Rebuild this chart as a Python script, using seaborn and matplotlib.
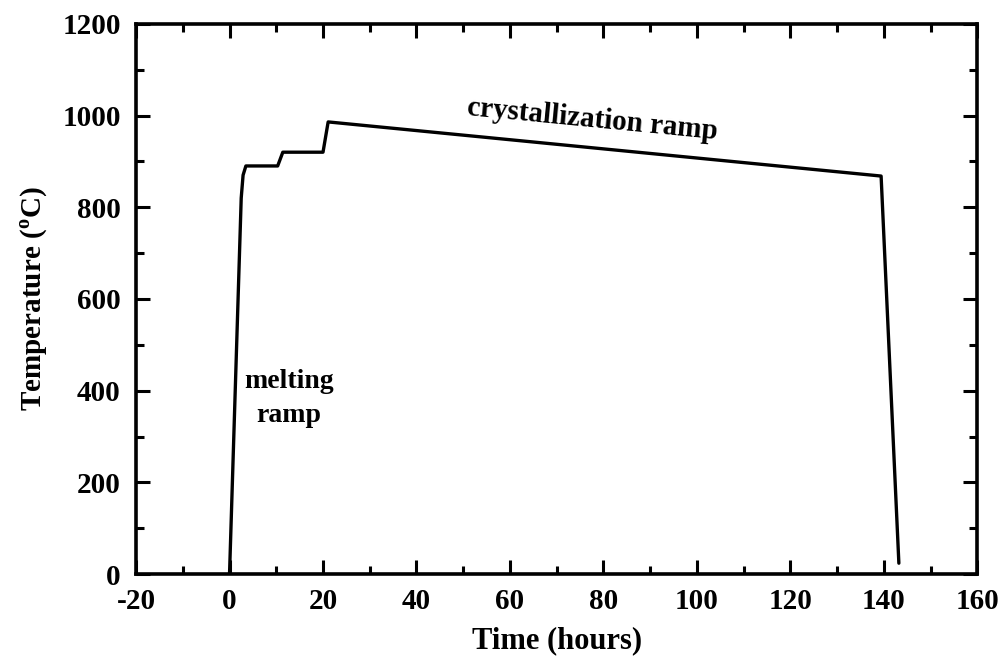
import matplotlib
matplotlib.use("Agg")
import matplotlib.pyplot as plt
from matplotlib.ticker import MultipleLocator
import seaborn as sns
import pandas as pd

# Furnace temperature profile
time_h = [0.0, 2.5, 2.9, 3.5, 10.3, 11.4, 20.0, 21.1, 139.4, 143.2]
temp_c = [0, 820, 870, 890, 890, 920, 920, 986, 868, 24]

x_ticks = [-20, 0, 20, 40, 60, 80, 100, 120, 140, 160]
y_ticks = [0, 200, 400, 600, 800, 1000, 1200]

sns.set_theme(style="ticks")
plt.rcParams["font.family"] = ["Liberation Serif", "DejaVu Serif"]
plt.rcParams["font.weight"] = "bold"
plt.rcParams["mathtext.fontset"] = "custom"
plt.rcParams["mathtext.rm"] = "Liberation Serif:bold"
plt.rcParams["axes.unicode_minus"] = False
plt.rcParams["axes.edgecolor"] = "black"
plt.rcParams["xtick.color"] = "black"
plt.rcParams["ytick.color"] = "black"
plt.rcParams["text.color"] = "black"
plt.rcParams["axes.labelcolor"] = "black"

df = pd.DataFrame({"t": time_h, "T": temp_c})

fig = plt.figure(figsize=(10.04, 6.6), dpi=100)
ax = fig.add_axes([0.1355, 0.130, 0.838, 0.834])
sns.lineplot(data=df, x="t", y="T", ax=ax, color="black", linewidth=2.4,
             sort=False, estimator=None)

ax.set_xlim(-20, 160)
ax.set_ylim(0, 1200)
ax.set_xticks(x_ticks)
ax.set_yticks(y_ticks)
ax.xaxis.set_minor_locator(MultipleLocator(10))
ax.yaxis.set_minor_locator(MultipleLocator(100))
ax.tick_params(which="both", direction="in", top=True, right=True,
               width=2.2, labelsize=21)
ax.tick_params(axis="x", which="both", pad=10)
ax.tick_params(axis="y", which="both", pad=11)
ax.tick_params(which="major", length=10)
ax.tick_params(which="minor", length=6)
for lbl in ax.get_xticklabels() + ax.get_yticklabels():
    lbl.set_fontweight("bold")
for sp in ax.spines.values():
    sp.set_linewidth(2.6)
    sp.set_visible(True)

ax.set_xlabel("Time (hours)", fontsize=22, fontweight="bold", labelpad=8)
ax.set_ylabel("Temperature ($^{\\mathrm{o}}$C)", fontsize=21,
              fontweight="bold", labelpad=9)

ax.text(77.6, 990, "crystallization ramp", fontsize=21, fontweight="bold",
        rotation=-5.5, ha="center", va="center", rotation_mode="anchor")
ax.text(12.7, 383, "melting\nramp", fontsize=20, fontweight="bold",
        ha="center", va="center", linespacing=1.45)

fig.savefig("out.png", dpi=100)
